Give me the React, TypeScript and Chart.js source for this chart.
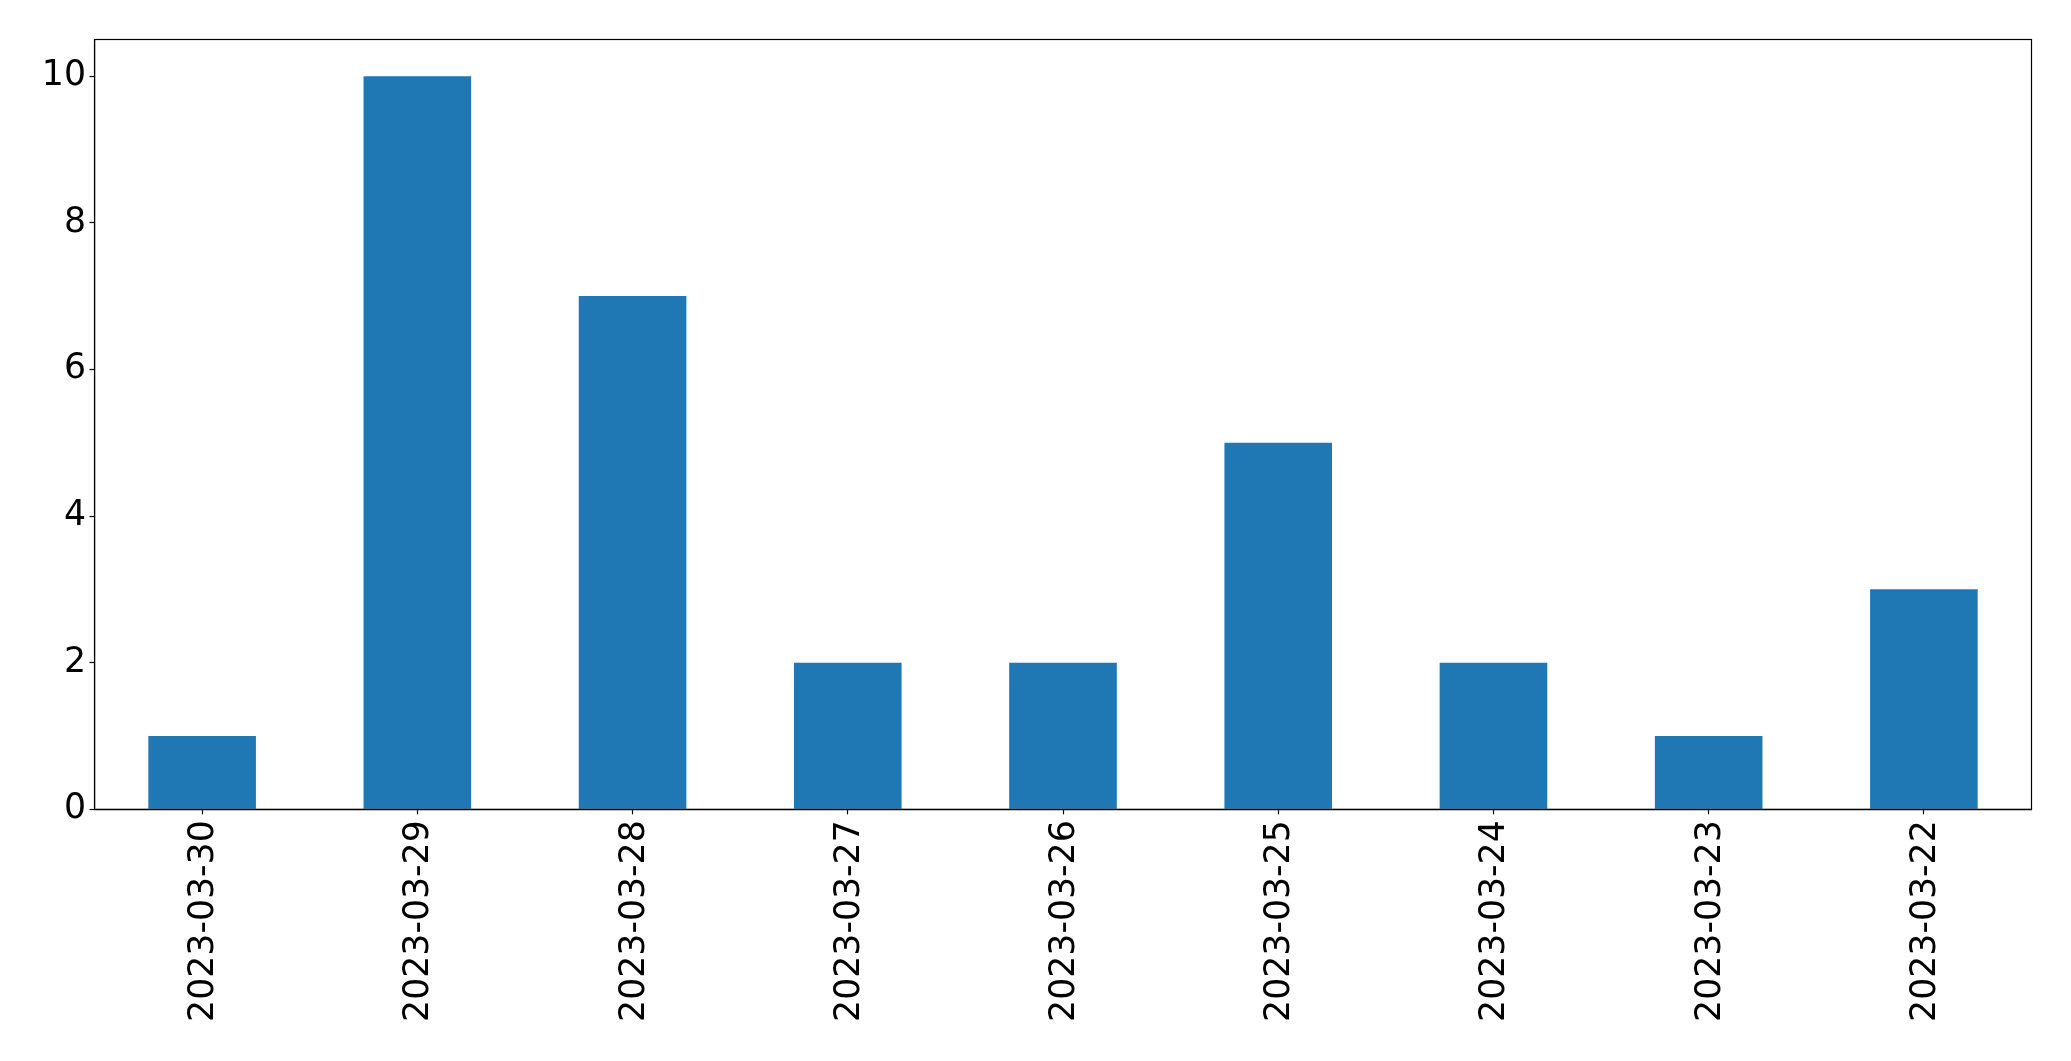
import React, { useEffect, useRef } from "react";
import { Chart, registerables } from "chart.js";

Chart.register(...registerables);

const categories = [
  "2023-03-30",
  "2023-03-29",
  "2023-03-28",
  "2023-03-27",
  "2023-03-26",
  "2023-03-25",
  "2023-03-24",
  "2023-03-23",
  "2023-03-22",
];
const counts = [1, 10, 7, 2, 2, 5, 2, 1, 3];
const yTicks = [0, 2, 4, 6, 8, 10];

const W = 2071;
const H = 1061;
const FONT = "'DejaVu Sans', sans-serif";
const FONT_SIZE = 34.7;

const framePlugin = {
  id: "frame",
  afterDraw(chart: any) {
    const { ctx, chartArea } = chart;
    ctx.save();
    ctx.strokeStyle = "#000";
    ctx.lineWidth = 1.2;
    ctx.strokeRect(
      chartArea.left,
      chartArea.top,
      chartArea.right - chartArea.left,
      chartArea.bottom - chartArea.top
    );
    ctx.restore();
  },
};

export default function App() {
  const ref = useRef<HTMLCanvasElement | null>(null);
  useEffect(() => {
    if (!ref.current) return;
    const chart = new Chart(ref.current, {
      type: "bar",
      data: {
        labels: categories,
        datasets: [
          {
            data: counts,
            backgroundColor: "#1f77b4",
            borderWidth: 0,
            barPercentage: 0.5,
            categoryPercentage: 1,
          },
        ],
      },
      options: {
        responsive: false,
        animation: false,
        devicePixelRatio: 1,
        layout: { padding: { top: 39.5, right: 39.5, left: 0, bottom: 0 } },
        plugins: {
          legend: { display: false },
          tooltip: { enabled: false },
        },
        scales: {
          x: {
            type: "category",
            offset: true,
            grid: {
              display: true,
              drawOnChartArea: false,
              drawTicks: true,
              tickLength: 5,
              tickColor: "#000",
              tickWidth: 1.2,
              offset: false,
            },
            border: { display: true, color: "#000", width: 1.2 },
            ticks: {
              color: "#000",
              font: { family: FONT, size: FONT_SIZE },
              minRotation: 90,
              maxRotation: 90,
              autoSkip: false,
              padding: 6,
              labelOffset: 2,
            },
            afterFit(scale: any) {
              scale.height = H - 809.3;
            },
          },
          y: {
            type: "linear",
            min: 0,
            max: 10.5,
            grid: {
              display: true,
              drawOnChartArea: false,
              drawTicks: true,
              tickLength: 5,
              tickColor: "#000",
              tickWidth: 1.2,
            },
            border: { display: true, color: "#000", width: 1.2 },
            ticks: {
              color: "#000",
              font: { family: FONT, size: FONT_SIZE },
              padding: 3.5,
            },
            afterBuildTicks(scale: any) {
              scale.ticks = yTicks.map((v) => ({ value: v }));
            },
            afterFit(scale: any) {
              scale.width = 94.5;
            },
          },
        },
      },
      plugins: [framePlugin],
    });
    return () => chart.destroy();
  }, []);
  return (
    <div
      style={{
        position: "fixed",
        left: 0,
        top: 0,
        width: W,
        height: H,
        background: "#fff",
      }}
    >
      <canvas ref={ref} width={W} height={H} style={{ width: W, height: H }} />
    </div>
  );
}
